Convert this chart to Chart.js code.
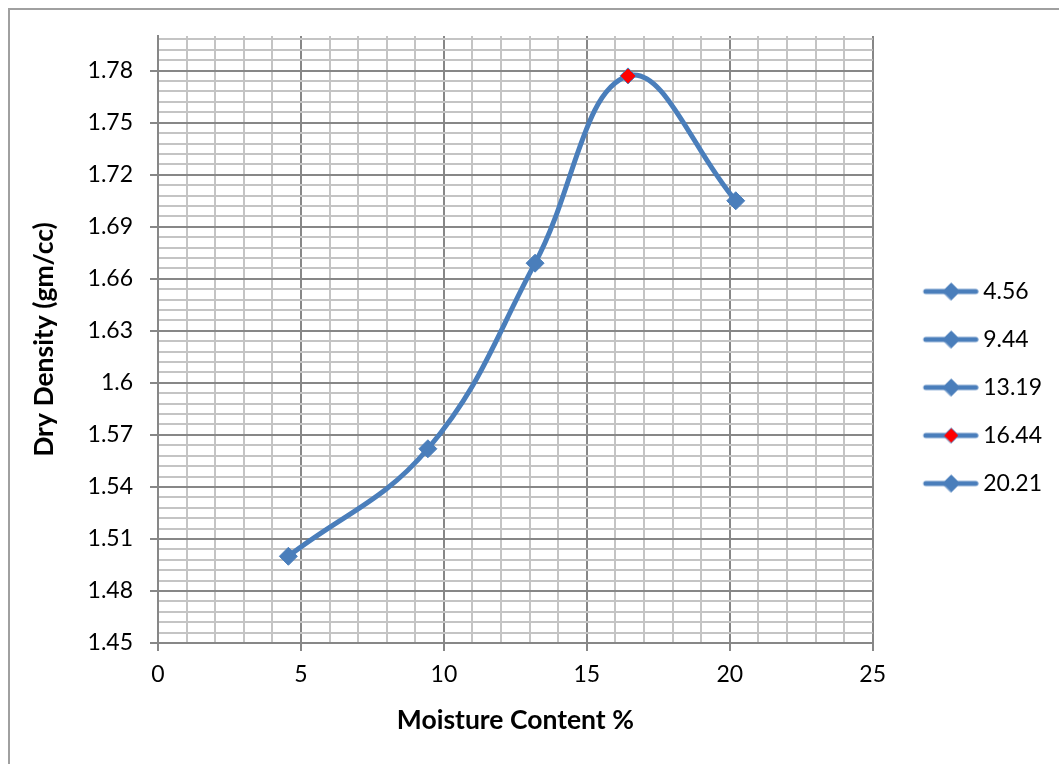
<!DOCTYPE html>
<html>
<head>
<meta charset="utf-8">
<script src="https://cdn.jsdelivr.net/npm/chart.js@4.4.0/dist/chart.umd.min.js"></script>
<style>
  html, body { margin: 0; padding: 0; background: #fff; overflow: hidden; }
  #frame { position: absolute; left: 8px; top: 8px; width: 1100px; height: 800px;
           border-left: 2px solid #a0a0a0; border-top: 2px solid #a0a0a0; }
  #wrap { position: absolute; left: 0; top: 0; width: 1059px; height: 764px; }
</style>
</head>
<body>
<div id="frame"></div>
<div id="wrap"><canvas id="densityChart" width="1059" height="764"></canvas></div>
<script>
// compaction test results
var moisture = [4.56, 9.44, 13.19, 16.44, 20.21];
var dryDensity = [1.500, 1.562, 1.669, 1.777, 1.705];
var legendLabels = ['4.56', '9.44', '13.19', '16.44', '20.21'];

// axis ticks (labelled ones), minor lines go 5 per major step
var xTicks = [0, 5, 10, 15, 20, 25];
var yTicks = [1.45, 1.48, 1.51, 1.54, 1.57, 1.6, 1.63, 1.66, 1.69, 1.72, 1.75, 1.78];
var yMax = 1.8;

var blue = '#4a7ebb';
var markerFill = [blue, blue, blue, '#ff0000', blue];
var markerSize = [9, 9, 9, 8, 9];
var majorGrid = '#878787';
var minorGrid = '#c4c4c4';

Chart.defaults.font.family = 'Lato';
Chart.defaults.color = '#000';

function minorValues(major, top) {
    var step = (major[1] - major[0]) / 5;
    var out = [];
    for (var i = 0; ; i++) {
        var v = Math.round((major[0] + i * step) * 10000) / 10000;
        if (v > top + 1e-9) break;
        out.push({ value: v, major: i % 5 === 0 });
    }
    return out;
}

function isMajor(list, v) {
    for (var i = 0; i < list.length; i++) {
        if (Math.abs(list[i] - v) < 1e-6) return true;
    }
    return false;
}

// little line + diamond pictures for the legend
function legendImage(fill, r) {
    var c = document.createElement('canvas');
    c.width = 88; c.height = 24;
    var g = c.getContext('2d');
    g.strokeStyle = blue; g.lineWidth = 5; g.lineCap = 'round';
    g.beginPath(); g.moveTo(35, 12); g.lineTo(85, 12); g.stroke();
    g.beginPath();
    g.moveTo(60.5 - r, 12); g.lineTo(60.5, 12 - r); g.lineTo(60.5 + r, 12); g.lineTo(60.5, 12 + r);
    g.closePath();
    g.fillStyle = fill; g.fill();
    g.lineWidth = 1; g.strokeStyle = blue; g.stroke();
    return c;
}

var points = moisture.map(function (m, i) { return { x: m, y: dryDensity[i] }; });

var ctx = document.getElementById('densityChart').getContext('2d');
var chart = new Chart(ctx, {
    type: 'line',
    data: {
        datasets: [{
            data: points,
            borderColor: blue,
            borderWidth: 5,
            tension: 0.4,
            fill: false,
            pointStyle: 'rectRot',
            pointRadius: markerSize,
            pointBackgroundColor: markerFill,
            pointBorderColor: blue,
            pointBorderWidth: 1
        }]
    },
    options: {
        responsive: false,
        animation: false,
        layout: { padding: { left: 8, top: 36, right: 7, bottom: 25 } },
        plugins: {
            tooltip: { enabled: false },
            legend: {
                position: 'right',
                labels: {
                    usePointStyle: true,
                    pointStyleWidth: 74,
                    padding: 25,
                    font: { size: 23 },
                    color: '#000',
                    generateLabels: function () {
                        return legendLabels.map(function (t, i) {
                            return {
                                text: t,
                                pointStyle: legendImage(markerFill[i], markerSize[i] - 0.5),
                                fillStyle: markerFill[i],
                                strokeStyle: blue,
                                lineWidth: 0,
                                hidden: false,
                                datasetIndex: 0,
                                index: i
                            };
                        });
                    }
                }
            }
        },
        scales: {
            x: {
                type: 'linear',
                min: xTicks[0],
                max: xTicks[xTicks.length - 1],
                afterBuildTicks: function (s) { s.ticks = minorValues(xTicks, xTicks[xTicks.length - 1]); },
                afterFit: function (s) { s.height = 96; },
                ticks: {
                    autoSkip: false,
                    maxRotation: 0,
                    padding: 10,
                    font: { size: 23 },
                    callback: function (v) { return isMajor(xTicks, v) ? String(v) : ''; }
                },
                grid: {
                    color: function (c) { return isMajor(xTicks, c.tick.value) ? majorGrid : minorGrid; },
                    lineWidth: 2,
                    tickLength: 8,
                    tickColor: function (c) { return isMajor(xTicks, c.tick.value) ? majorGrid : 'rgba(0,0,0,0)'; }
                },
                border: { color: majorGrid, width: 2 },
                title: {
                    display: true,
                    text: 'Moisture Content %',
                    font: { size: 26.5, weight: 'bold' },
                    padding: { top: 0, bottom: 3 }
                }
            },
            y: {
                type: 'linear',
                min: yTicks[0],
                max: yMax,
                afterBuildTicks: function (s) { s.ticks = minorValues(yTicks, yMax); },
                afterFit: function (s) { s.width = 150; },
                ticks: {
                    autoSkip: false,
                    padding: 17,
                    font: { size: 23 },
                    callback: function (v) { return isMajor(yTicks, v) ? String(parseFloat(v.toFixed(2))) : ''; }
                },
                grid: {
                    color: function (c) { return isMajor(yTicks, c.tick.value) ? majorGrid : minorGrid; },
                    lineWidth: 2,
                    tickLength: 8,
                    tickColor: function (c) { return isMajor(yTicks, c.tick.value) ? majorGrid : 'rgba(0,0,0,0)'; }
                },
                border: { color: majorGrid, width: 2 },
                title: {
                    display: true,
                    text: 'Dry Density (gm/cc)',
                    font: { size: 26.5, weight: 'bold' },
                    padding: { top: 21, bottom: 0 }
                }
            }
        }
    }
});
</script>
</body>
</html>
